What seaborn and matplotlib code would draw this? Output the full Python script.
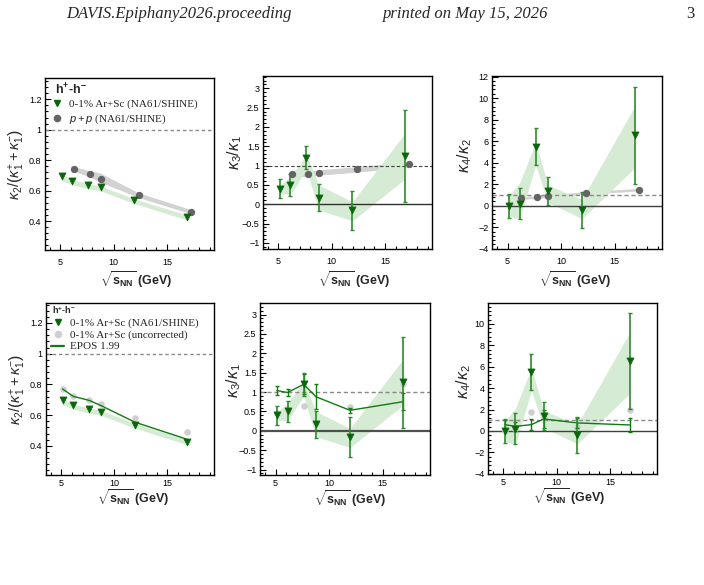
import numpy as np
import pandas as pd
import matplotlib
matplotlib.use('Agg')
import matplotlib.pyplot as plt
import seaborn as sns
from matplotlib.lines import Line2D
from matplotlib.ticker import MultipleLocator, FuncFormatter

sns.set_style('ticks')
plt.rcParams['font.family'] = ['Liberation Sans', 'DejaVu Sans']
plt.rcParams['mathtext.fontset'] = 'custom'
plt.rcParams['mathtext.rm'] = 'Liberation Sans'
plt.rcParams['mathtext.it'] = 'Liberation Sans:italic'
plt.rcParams['mathtext.bf'] = 'Liberation Sans:bold'

# ---------------- data ----------------
sqrt_s_arsc = [5.12, 6.12, 7.62, 8.77, 11.94, 16.84]
sqrt_s_pp = [6.27, 7.74, 8.76, 12.32, 17.27]

# kappa2 / (kappa1+ + kappa1-)
k2_arsc = [0.698, 0.664, 0.638, 0.623, 0.537, 0.427]
k2_arsc_sys_lo = [0.665, 0.640, 0.612, 0.598, 0.515, 0.408]
k2_arsc_sys_hi = [0.705, 0.672, 0.646, 0.630, 0.545, 0.440]
k2_pp = [0.743, 0.709, 0.678, 0.570, 0.461]
k2_pp_sys_lo = [0.728, 0.690, 0.655, 0.555, 0.447]
k2_pp_sys_hi = [0.758, 0.730, 0.715, 0.585, 0.475]
k2_uncorr = [0.770, 0.722, 0.698, 0.674, 0.578, 0.489]
k2_epos = [0.770, 0.722, 0.696, 0.661, 0.554, 0.443]

# kappa3 / kappa1
k3_arsc = [0.40, 0.50, 1.20, 0.17, -0.16, 1.25]
k3_arsc_stat = [0.24, 0.28, 0.30, 0.35, 0.51, 1.18]
k3_arsc_sys_lo = [0.28, 0.25, 0.90, -0.15, -0.43, 0.65]
k3_arsc_sys_hi = [0.48, 0.72, 1.27, 0.50, 0.06, 1.83]
k3_pp = [0.78, 0.79, 0.82, 0.90, 1.03]
k3_pp_sys_lo = [0.71, 0.72, 0.75, 0.83, 0.96]
k3_pp_sys_hi = [0.85, 0.86, 0.89, 0.97, 1.10]
k3_uncorr = [0.47, 0.52, 0.63, 0.20, 0.62, 1.21]
k3_epos = [1.04, 0.99, 1.20, 0.88, 0.53, 0.75]
k3_epos_err = [0.11, 0.10, 0.26, 0.32, 0.06, 0.22]

# kappa4 / kappa2
k4_arsc = [0.00, 0.20, 5.50, 1.36, -0.40, 6.56]
k4_arsc_stat = [1.10, 1.45, 1.70, 1.30, 1.66, 4.50]
k4_arsc_sys_lo = [-0.95, -1.30, 3.80, 0.30, -1.20, 3.50]
k4_arsc_sys_hi = [0.90, 2.10, 5.90, 1.90, 0.60, 9.20]
k4_pp = [0.71, 0.80, 0.87, 1.20, 1.49]
k4_pp_sys_lo = [0.59, 0.68, 0.75, 1.08, 1.37]
k4_pp_sys_hi = [0.83, 0.92, 0.99, 1.32, 1.61]
k4_uncorr = [0.00, 0.20, 1.74, 1.30, 0.40, 1.93]
k4_epos = [0.59, 0.43, 0.59, 1.12, 0.75, 0.56]
k4_epos_err = [0.45, 0.45, 0.50, 0.80, 0.45, 0.65]

legend_arsc = '0-1% Ar+Sc (NA61/SHINE)'
legend_pp = '$\\it{p+p}$ (NA61/SHINE)'
legend_uncorr = '0-1% Ar+Sc (uncorrected)'
legend_epos = 'EPOS 1.99'
system_label = '$\\mathbf{h^{+}}$-$\\mathbf{h^{-}}$'

ylabels = [r'$\kappa_2/\left(\kappa_1^{+}+\kappa_1^{-}\right)$',
           r'$\kappa_3/\kappa_1$', r'$\kappa_4/\kappa_2$']
xlabel = r'$\sqrt{\mathbf{s}_{\mathbf{NN}}}$ (GeV)'

# ---------------- styles ----------------
GREEN = '#0a660a'
GREEN_ERR = '#2f8a2f'
GREEN_BAND = '#d6ebd3'
GREY = '#646464'
GREY_BAND = '#d2d2d2'
LIGHT = '#cfcfcf'
EPOS_C = '#117a11'

W, H = 704, 585
fig = plt.figure(figsize=(W / 100, H / 100), dpi=100)


def rect(l, r, t, b):
    return [l / W, 1 - b / H, (r - l) / W, (b - t) / H]


ax1 = fig.add_axes(rect(45, 214, 78, 250))
ax2 = fig.add_axes(rect(263, 432, 76, 249))
ax3 = fig.add_axes(rect(492, 662, 76, 249))
ax4 = fig.add_axes(rect(46, 214, 303, 475))
ax5 = fig.add_axes(rect(260, 430, 303, 475))
ax6 = fig.add_axes(rect(488, 657, 303, 474))


def fmt(v, pos):
    s = f'{v:g}'
    if s in ('-0',):
        s = '0'
    return s.replace('-', '\u2212')


def style(ax, ylim, ymaj, ymin_, ylab, ylab_size, ylab_xy, xlab_xy, xpad):
    ax.set_xlim(3.55, 19.4)
    ax.set_ylim(*ylim)
    ax.xaxis.set_major_locator(MultipleLocator(5))
    ax.xaxis.set_minor_locator(MultipleLocator(1))
    ax.yaxis.set_major_locator(MultipleLocator(ymaj))
    ax.yaxis.set_minor_locator(MultipleLocator(ymin_))
    ax.yaxis.set_major_formatter(FuncFormatter(fmt))
    ax.tick_params(which='both', direction='in', top=False, right=False,
                   labelsize=6.5, width=0.8, colors='black')
    ax.tick_params(axis='x', which='major', pad=xpad)
    ax.tick_params(axis='y', which='major', pad=2.5)
    ax.tick_params(which='major', length=4.5)
    ax.tick_params(which='minor', length=2.3)
    for s in ax.spines.values():
        s.set_visible(True)
        s.set_linewidth(1.0)
        s.set_color('black')
    ax.set_ylabel(ylab, fontsize=ylab_size)
    ax.yaxis.set_label_coords(*ylab_xy)
    ax.set_xlabel(xlabel, fontsize=9, fontweight='bold')
    ax.xaxis.set_label_coords(*xlab_xy)
    ax.set_facecolor('white')


def band(ax, x, lo, hi, color):
    ax.fill_between(x, lo, hi, color=color, lw=0, zorder=1)


def arsc(ax, y, err=None):
    if err is not None:
        ax.errorbar(sqrt_s_arsc, y, yerr=err, fmt='none', ecolor=GREEN_ERR,
                    elinewidth=1.2, capsize=1.6, capthick=1.0, zorder=4)
    sns.scatterplot(x=sqrt_s_arsc, y=y, ax=ax, marker='v', s=26, color=GREEN,
                    edgecolor=GREEN, linewidth=0.5, zorder=5)


def pp(ax, y):
    sns.scatterplot(x=sqrt_s_pp, y=y, ax=ax, marker='o', s=28, color=GREY,
                    edgecolor=GREY, linewidth=0, zorder=5)


def uncorr(ax, y):
    sns.scatterplot(x=sqrt_s_arsc, y=y, ax=ax, marker='o', s=22, color=LIGHT,
                    edgecolor=LIGHT, linewidth=0, zorder=3)


def epos(ax, y, err=None):
    df = pd.DataFrame({'x': sqrt_s_arsc, 'y': y})
    sns.lineplot(data=df, x='x', y='y', ax=ax, color=EPOS_C, lw=1.0, zorder=3.5,
                 estimator=None, sort=False)
    if err is not None:
        ax.errorbar(sqrt_s_arsc, y, yerr=err, fmt='none', ecolor=EPOS_C,
                    elinewidth=1.0, capsize=1.6, capthick=1.0, zorder=3.6)


# ---- top-left ----
band(ax1, sqrt_s_pp, k2_pp_sys_lo, k2_pp_sys_hi, GREY_BAND)
band(ax1, sqrt_s_arsc, k2_arsc_sys_lo, k2_arsc_sys_hi, GREEN_BAND)
ax1.axhline(1, color='#8a8a8a', ls=(0, (2.5, 2)), lw=1.0, zorder=2)
pp(ax1, k2_pp)
arsc(ax1, k2_arsc)

# ---- top-middle ----
band(ax2, sqrt_s_pp, k3_pp_sys_lo, k3_pp_sys_hi, GREY_BAND)
band(ax2, sqrt_s_arsc, k3_arsc_sys_lo, k3_arsc_sys_hi, GREEN_BAND)
ax2.axhline(1, color='#404040', ls=(0, (3, 2)), lw=0.8, zorder=2)
ax2.axhline(0, color='#303030', lw=1.0, zorder=2)
pp(ax2, k3_pp)
arsc(ax2, k3_arsc, k3_arsc_stat)

# ---- top-right ----
band(ax3, sqrt_s_pp, k4_pp_sys_lo, k4_pp_sys_hi, GREY_BAND)
band(ax3, sqrt_s_arsc, k4_arsc_sys_lo, k4_arsc_sys_hi, GREEN_BAND)
ax3.axhline(1, color='#8a8a8a', ls=(0, (3, 2)), lw=1.0, zorder=2)
ax3.axhline(0, color='#404040', lw=1.0, zorder=2)
pp(ax3, k4_pp)
arsc(ax3, k4_arsc, k4_arsc_stat)

# ---- bottom-left ----
band(ax4, sqrt_s_arsc, k2_arsc_sys_lo, k2_arsc_sys_hi, GREEN_BAND)
ax4.axhline(1, color='#8a8a8a', ls=(0, (2.5, 2)), lw=1.0, zorder=2)
uncorr(ax4, k2_uncorr)
epos(ax4, k2_epos)
arsc(ax4, k2_arsc)

# ---- bottom-middle ----
band(ax5, sqrt_s_arsc, k3_arsc_sys_lo, k3_arsc_sys_hi, GREEN_BAND)
ax5.axhline(1, color='#8a8a8a', ls=(0, (3, 2)), lw=1.0, zorder=2)
ax5.axhline(0, color='#505050', lw=1.6, zorder=2)
uncorr(ax5, k3_uncorr)
epos(ax5, k3_epos, k3_epos_err)
arsc(ax5, k3_arsc, k3_arsc_stat)

# ---- bottom-right ----
band(ax6, sqrt_s_arsc, k4_arsc_sys_lo, k4_arsc_sys_hi, GREEN_BAND)
ax6.axhline(1, color='#8a8a8a', ls=(0, (3, 2)), lw=1.0, zorder=2)
ax6.axhline(0, color='#404040', lw=1.0, zorder=2)
uncorr(ax6, k4_uncorr)
epos(ax6, k4_epos, k4_epos_err)
arsc(ax6, k4_arsc, k4_arsc_stat)

style(ax1, (0.21, 1.34), 0.2, 0.04, ylabels[0], 10.5, (-0.105, 0.5), (0.54, -0.115), 6)
style(ax2, (-1.16, 3.32), 0.5, 0.1, ylabels[1], 11.5, (-0.115, 0.56), (0.54, -0.115), 6)
style(ax3, (-4.02, 12.05), 2, 0.4, ylabels[2], 11.5, (-0.105, 0.54), (0.49, -0.115), 6)
style(ax4, (0.21, 1.33), 0.2, 0.04, ylabels[0], 10.5, (-0.105, 0.5), (0.52, -0.07), 3)
style(ax5, (-1.14, 3.30), 0.5, 0.1, ylabels[1], 11.5, (-0.10, 0.55), (0.53, -0.075), 3)
style(ax6, (-4.02, 11.95), 2, 0.4, ylabels[2], 11.5, (-0.09, 0.54), (0.48, -0.075), 3)

# ---- legends ----
serif = {'family': 'Liberation Serif', 'size': 8}
h_arsc = Line2D([], [], marker='v', ls='none', color=GREEN, ms=5)
h_pp = Line2D([], [], marker='o', ls='none', color=GREY, ms=4.5)
h_unc = Line2D([], [], marker='o', ls='none', color=LIGHT, ms=4.5)
h_epos = Line2D([], [], color=EPOS_C, lw=1.6)

ax1.text(0.06, 0.975, system_label, transform=ax1.transAxes, fontsize=9,
         fontweight='bold', va='top', ha='left')
leg1 = ax1.legend([h_arsc, h_pp], [legend_arsc, legend_pp], loc='upper left',
                  bbox_to_anchor=(0.03, 0.88), frameon=False, prop=serif,
                  handlelength=1.2, handletextpad=0.5, labelspacing=0.35,
                  borderaxespad=0, borderpad=0)

ax4.text(0.035, 0.995, system_label, transform=ax4.transAxes, fontsize=6.5,
         fontweight='bold', va='top', ha='left')
leg4 = ax4.legend([h_arsc, h_unc, h_epos], [legend_arsc, legend_uncorr, legend_epos],
                  loc='upper left', bbox_to_anchor=(0.03, 0.915), frameon=False,
                  prop=serif, handlelength=1.2, handletextpad=0.5,
                  labelspacing=0.18, borderaxespad=0, borderpad=0)

# ---- page header ----
fig.text(66 / W, 1 - 14 / H, 'DAVIS.Epiphany2026.proceeding', fontsize=12,
         family='Liberation Serif', style='italic', va='center', ha='left')
fig.text(383 / W, 1 - 14 / H, 'printed on May 15, 2026', fontsize=12,
         family='Liberation Serif', style='italic', va='center', ha='left')
fig.text(694 / W, 1 - 14 / H, '3', fontsize=12, family='Liberation Serif',
         va='center', ha='right')

fig.savefig('out.png', dpi=100, facecolor='white')
